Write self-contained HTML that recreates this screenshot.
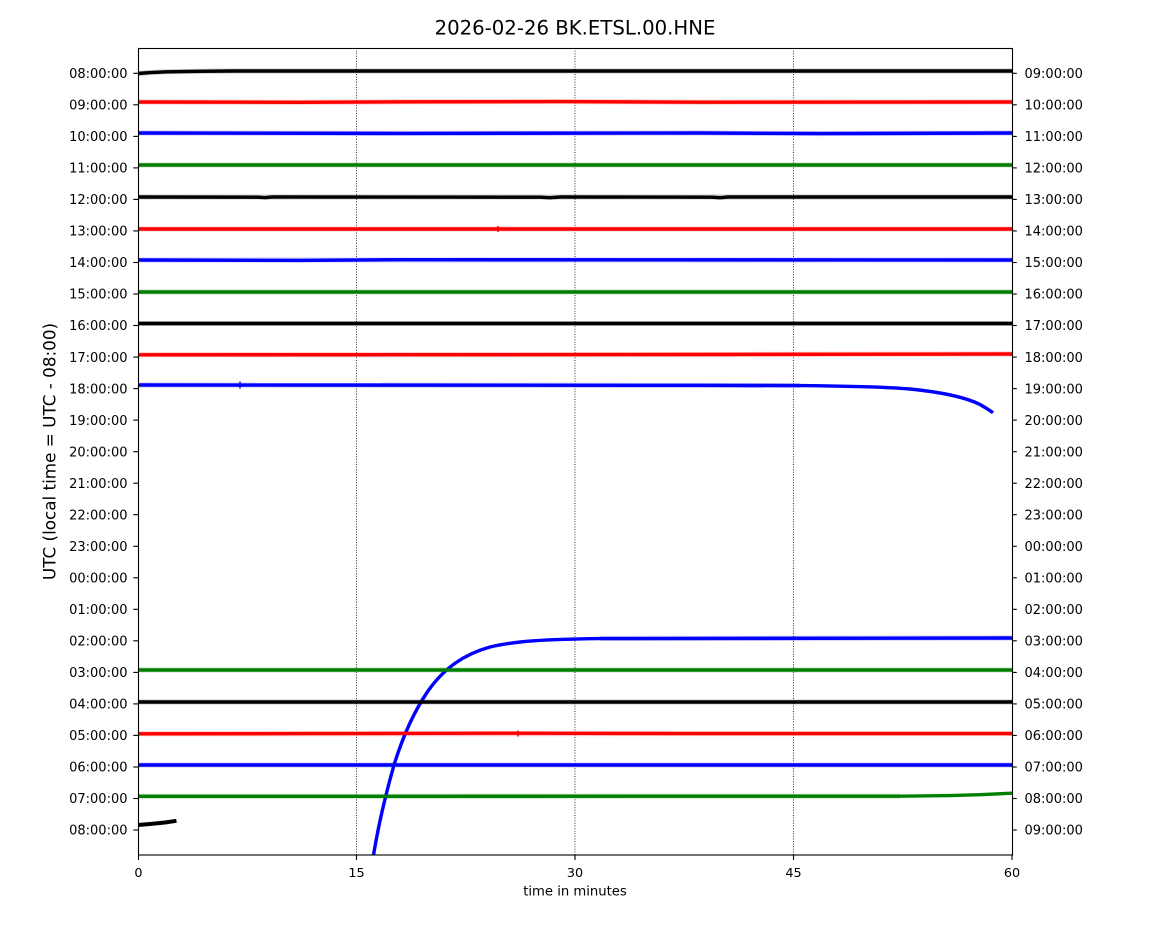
<!DOCTYPE html>
<html>
<head>
<meta charset="utf-8">
<style>
html,body{margin:0;padding:0;background:#fff;}
svg{display:block;}
text{font-family:"DejaVu Sans","Liberation Sans",sans-serif;fill:#000;}
</style>
</head>
<body>
<svg width="1150" height="950" viewBox="0 0 1150 950" xmlns="http://www.w3.org/2000/svg">
<rect x="0" y="0" width="1150" height="950" fill="#fff"/>

<!-- title -->
<text x="575" y="34.5" font-size="19.7" text-anchor="middle">2026-02-26 BK.ETSL.00.HNE</text>

<!-- grid lines -->
<g stroke="#000" stroke-width="0.8" stroke-dasharray="1 1.6">
<line x1="356.5" y1="48" x2="356.5" y2="855"/>
<line x1="575" y1="48" x2="575" y2="855"/>
<line x1="793.5" y1="48" x2="793.5" y2="855"/>
</g>

<!-- trace fringe (noise) -->
<g fill="none" stroke-width="5" stroke-opacity="0.22" stroke-linejoin="round">
<polyline stroke="#000" points="138,73.5 150,72.6 167,71.8 200,71.3 233,71 1012,71"/>
<polyline stroke="#ff0000" points="138,102 300,102.3 420,101.8 560,101.6 700,102.2 1012,102"/>
<polyline stroke="#0000ff" points="138,133 400,133.4 700,133 820,133.6 1012,133"/>
<polyline stroke="#008000" points="138,165 1012,165"/>
<polyline stroke="#000" points="138,197 1012,197"/>
<polyline stroke="#ff0000" points="138,229 1012,229"/>
<polyline stroke="#0000ff" points="138,260 1012,260"/>
<polyline stroke="#008000" points="138,292 1012,292"/>
<polyline stroke="#000" points="138,323.5 1012,323.5"/>
<polyline stroke="#ff0000" points="138,354.8 600,354.6 1012,354"/>
<polyline stroke="#0000ff" points="138,385 800,385.5"/>
<polyline stroke="#0000ff" points="600,638.4 1012,638"/>
<polyline stroke="#008000" points="138,670 1012,670"/>
<polyline stroke="#000" points="138,702 1012,702"/>
<polyline stroke="#ff0000" points="138,733.8 1012,733.6"/>
<polyline stroke="#0000ff" points="138,765 1012,765"/>
<polyline stroke="#008000" points="138,796.3 900,796.2"/>
</g>

<!-- traces -->
<g fill="none" stroke-width="3.4" stroke-linejoin="round" stroke-linecap="butt">
<polyline stroke="#000" points="138,73.5 150,72.6 167,71.8 200,71.3 233,71 1012,71"/>
<polyline stroke="#ff0000" points="138,102 300,102.3 420,101.8 560,101.6 700,102.2 1012,102"/>
<polyline stroke="#0000ff" points="138,133 400,133.4 700,133 820,133.6 1012,133"/>
<polyline stroke="#008000" points="138,165 1012,165"/>
<polyline stroke="#000" points="138,197 258,197.2 265,197.7 272,197 540,197.2 550,197.8 560,197 712,197.2 720,197.8 728,197 1012,197"/>
<polyline stroke="#ff0000" points="138,229 1012,229"/>
<polyline stroke="#0000ff" points="138,260 300,260.4 400,259.7 1012,260"/>
<polyline stroke="#008000" points="138,292 1012,292"/>
<polyline stroke="#000" points="138,323.5 1012,323.5"/>
<polyline stroke="#ff0000" points="138,354.8 600,354.6 1012,354"/>
<path stroke="#0000ff" d="M138,385 L700,385.3 L800,385.6 C840,386 880,386.5 910,389 C940,392 965,397 980,404.5 C986,408 990,410.5 993,412.7"/>
<path stroke="#0000ff" d="M373.5,855 C378,828 384,800 394,765 C403,736 415,710 428,691 C445,667 465,654 490,647 C515,641 545,639.3 600,638.6 L1012,638"/>
<polyline stroke="#008000" points="138,670 1012,670"/>
<polyline stroke="#000" points="138,702 1012,702"/>
<polyline stroke="#ff0000" points="138,733.8 300,733.6 500,733.2 700,733.6 1012,733.6"/>
<polyline stroke="#0000ff" points="138,765 1012,765"/>
<polyline stroke="#008000" points="138,796.3 900,796.2 950,795.6 980,794.7 1012,793.2"/>
<polyline stroke="#000" stroke-width="4" points="138,825 150,824 165,822.5 176.5,820.8"/>
</g>
<!-- small blips -->
<g stroke-width="1.5">
<line x1="240" y1="381.5" x2="240" y2="388.5" stroke="#0000ff"/>
<line x1="498" y1="226" x2="498" y2="232" stroke="#ff0000"/>
<line x1="518" y1="730.5" x2="518" y2="736.5" stroke="#ff0000"/>
</g>

<!-- axes frame -->
<rect x="138.5" y="48.5" width="874" height="806.5" fill="none" stroke="#000" stroke-width="1.1"/>

<!-- y ticks left & right -->
<g stroke="#000" stroke-width="1.1">
<line x1="133.2" y1="73.3" x2="138" y2="73.3"/><line x1="1012" y1="73.3" x2="1016.8" y2="73.3"/>
<line x1="133.2" y1="104.8" x2="138" y2="104.8"/><line x1="1012" y1="104.8" x2="1016.8" y2="104.8"/>
<line x1="133.2" y1="136.4" x2="138" y2="136.4"/><line x1="1012" y1="136.4" x2="1016.8" y2="136.4"/>
<line x1="133.2" y1="167.9" x2="138" y2="167.9"/><line x1="1012" y1="167.9" x2="1016.8" y2="167.9"/>
<line x1="133.2" y1="199.4" x2="138" y2="199.4"/><line x1="1012" y1="199.4" x2="1016.8" y2="199.4"/>
<line x1="133.2" y1="230.9" x2="138" y2="230.9"/><line x1="1012" y1="230.9" x2="1016.8" y2="230.9"/>
<line x1="133.2" y1="262.5" x2="138" y2="262.5"/><line x1="1012" y1="262.5" x2="1016.8" y2="262.5"/>
<line x1="133.2" y1="294.0" x2="138" y2="294.0"/><line x1="1012" y1="294.0" x2="1016.8" y2="294.0"/>
<line x1="133.2" y1="325.5" x2="138" y2="325.5"/><line x1="1012" y1="325.5" x2="1016.8" y2="325.5"/>
<line x1="133.2" y1="357.1" x2="138" y2="357.1"/><line x1="1012" y1="357.1" x2="1016.8" y2="357.1"/>
<line x1="133.2" y1="388.6" x2="138" y2="388.6"/><line x1="1012" y1="388.6" x2="1016.8" y2="388.6"/>
<line x1="133.2" y1="420.1" x2="138" y2="420.1"/><line x1="1012" y1="420.1" x2="1016.8" y2="420.1"/>
<line x1="133.2" y1="451.7" x2="138" y2="451.7"/><line x1="1012" y1="451.7" x2="1016.8" y2="451.7"/>
<line x1="133.2" y1="483.2" x2="138" y2="483.2"/><line x1="1012" y1="483.2" x2="1016.8" y2="483.2"/>
<line x1="133.2" y1="514.7" x2="138" y2="514.7"/><line x1="1012" y1="514.7" x2="1016.8" y2="514.7"/>
<line x1="133.2" y1="546.3" x2="138" y2="546.3"/><line x1="1012" y1="546.3" x2="1016.8" y2="546.3"/>
<line x1="133.2" y1="577.8" x2="138" y2="577.8"/><line x1="1012" y1="577.8" x2="1016.8" y2="577.8"/>
<line x1="133.2" y1="609.3" x2="138" y2="609.3"/><line x1="1012" y1="609.3" x2="1016.8" y2="609.3"/>
<line x1="133.2" y1="640.8" x2="138" y2="640.8"/><line x1="1012" y1="640.8" x2="1016.8" y2="640.8"/>
<line x1="133.2" y1="672.4" x2="138" y2="672.4"/><line x1="1012" y1="672.4" x2="1016.8" y2="672.4"/>
<line x1="133.2" y1="703.9" x2="138" y2="703.9"/><line x1="1012" y1="703.9" x2="1016.8" y2="703.9"/>
<line x1="133.2" y1="735.4" x2="138" y2="735.4"/><line x1="1012" y1="735.4" x2="1016.8" y2="735.4"/>
<line x1="133.2" y1="767.0" x2="138" y2="767.0"/><line x1="1012" y1="767.0" x2="1016.8" y2="767.0"/>
<line x1="133.2" y1="798.5" x2="138" y2="798.5"/><line x1="1012" y1="798.5" x2="1016.8" y2="798.5"/>
<line x1="133.2" y1="830.0" x2="138" y2="830.0"/><line x1="1012" y1="830.0" x2="1016.8" y2="830.0"/>
</g>

<!-- left labels -->
<g font-size="13" text-anchor="end">
<text x="127.5" y="78">08:00:00</text>
<text x="127.5" y="109.5">09:00:00</text>
<text x="127.5" y="141.1">10:00:00</text>
<text x="127.5" y="172.6">11:00:00</text>
<text x="127.5" y="204.1">12:00:00</text>
<text x="127.5" y="235.6">13:00:00</text>
<text x="127.5" y="267.2">14:00:00</text>
<text x="127.5" y="298.7">15:00:00</text>
<text x="127.5" y="330.2">16:00:00</text>
<text x="127.5" y="361.8">17:00:00</text>
<text x="127.5" y="393.3">18:00:00</text>
<text x="127.5" y="424.8">19:00:00</text>
<text x="127.5" y="456.4">20:00:00</text>
<text x="127.5" y="487.9">21:00:00</text>
<text x="127.5" y="519.4">22:00:00</text>
<text x="127.5" y="551.0">23:00:00</text>
<text x="127.5" y="582.5">00:00:00</text>
<text x="127.5" y="614.0">01:00:00</text>
<text x="127.5" y="645.5">02:00:00</text>
<text x="127.5" y="677.1">03:00:00</text>
<text x="127.5" y="708.6">04:00:00</text>
<text x="127.5" y="740.1">05:00:00</text>
<text x="127.5" y="771.7">06:00:00</text>
<text x="127.5" y="803.2">07:00:00</text>
<text x="127.5" y="834.7">08:00:00</text>
</g>

<!-- right labels -->
<g font-size="13" text-anchor="start">
<text x="1024.5" y="78">09:00:00</text>
<text x="1024.5" y="109.5">10:00:00</text>
<text x="1024.5" y="141.1">11:00:00</text>
<text x="1024.5" y="172.6">12:00:00</text>
<text x="1024.5" y="204.1">13:00:00</text>
<text x="1024.5" y="235.6">14:00:00</text>
<text x="1024.5" y="267.2">15:00:00</text>
<text x="1024.5" y="298.7">16:00:00</text>
<text x="1024.5" y="330.2">17:00:00</text>
<text x="1024.5" y="361.8">18:00:00</text>
<text x="1024.5" y="393.3">19:00:00</text>
<text x="1024.5" y="424.8">20:00:00</text>
<text x="1024.5" y="456.4">21:00:00</text>
<text x="1024.5" y="487.9">22:00:00</text>
<text x="1024.5" y="519.4">23:00:00</text>
<text x="1024.5" y="551.0">00:00:00</text>
<text x="1024.5" y="582.5">01:00:00</text>
<text x="1024.5" y="614.0">02:00:00</text>
<text x="1024.5" y="645.5">03:00:00</text>
<text x="1024.5" y="677.1">04:00:00</text>
<text x="1024.5" y="708.6">05:00:00</text>
<text x="1024.5" y="740.1">06:00:00</text>
<text x="1024.5" y="771.7">07:00:00</text>
<text x="1024.5" y="803.2">08:00:00</text>
<text x="1024.5" y="834.7">09:00:00</text>
</g>

<!-- x ticks -->
<g stroke="#000" stroke-width="1.1">
<line x1="138.5" y1="855" x2="138.5" y2="860"/>
<line x1="356.5" y1="855" x2="356.5" y2="860"/>
<line x1="575" y1="855" x2="575" y2="860"/>
<line x1="793.5" y1="855" x2="793.5" y2="860"/>
<line x1="1012" y1="855" x2="1012" y2="860"/>
</g>
<g font-size="12.8" text-anchor="middle">
<text x="138.5" y="877">0</text>
<text x="356.5" y="877">15</text>
<text x="575" y="877">30</text>
<text x="793.5" y="877">45</text>
<text x="1012" y="877">60</text>
</g>
<text x="575" y="895.5" font-size="13.2" text-anchor="middle">time in minutes</text>

<!-- y label -->
<text transform="translate(55.5,451.5) rotate(-90)" font-size="16.8" text-anchor="middle">UTC (local time = UTC - 08:00)</text>
</svg>
</body>
</html>
